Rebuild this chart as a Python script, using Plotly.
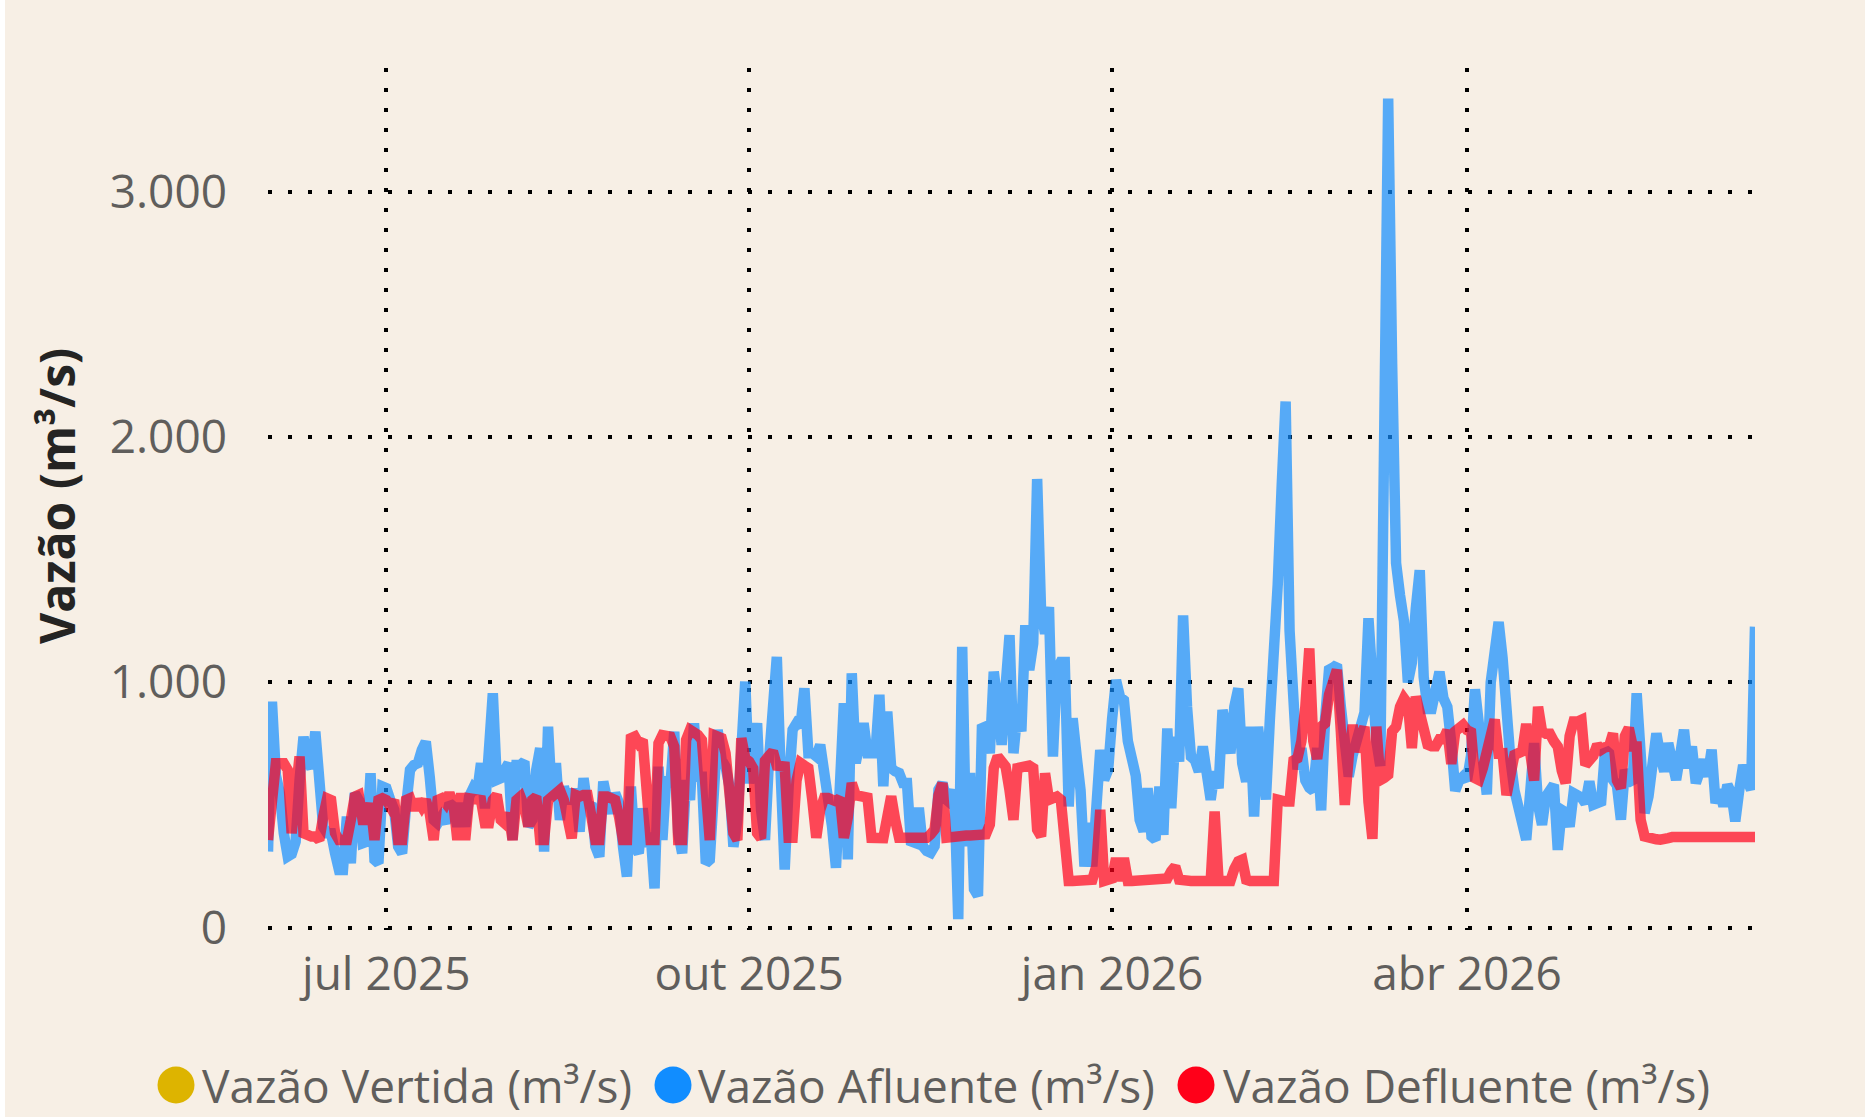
import pandas as pd
import plotly.graph_objects as go

start_date = "2025-06-01"

afluente = [
    310, 921, 620, 548, 385, 290, 300, 350, 600, 778,
    680, 650, 799, 575, 410, 385, 385, 303, 235, 235,
    452, 262, 548, 520, 344, 350, 629, 276, 262, 575,
    568, 520, 480, 330, 303, 493, 643, 663, 670, 724,
    758, 615, 439, 425, 452, 425, 507, 493, 412, 507,
    412, 534, 568, 548, 670, 486, 751, 955, 602, 609,
    643, 670, 357, 663, 663, 677, 412, 439, 643, 731,
    310, 819, 520, 670, 439, 575, 507, 548, 548, 391,
    609, 493, 507, 330, 289, 595, 520, 466, 548, 507,
    330, 208, 575, 330, 303, 486, 330, 385, 160, 656,
    357, 615, 575, 799, 385, 303, 602, 520, 833, 615,
    615, 262, 276, 575, 806, 683, 656, 575, 330, 439,
    683, 1003, 588, 683, 833, 480, 357, 680, 900, 1104,
    620, 237, 576, 806, 833, 820, 976, 711, 711, 698,
    745, 644, 549, 413, 244, 644, 915, 278, 1037, 671,
    766, 833, 711, 711, 711, 949, 576, 881, 650, 637,
    630, 589, 589, 352, 346, 488, 332, 312, 305, 332,
    562, 589, 522, 508, 562, 34, 1145, 332, 630, 156,
    129, 813, 820, 711, 1043, 915, 745, 982, 1192, 711,
    880, 800, 1233, 1050, 1158, 1829, 1290, 1199, 1307, 697,
    1050, 1083, 1083, 494, 853, 700, 560, 249, 426, 249,
    500, 724, 602, 643, 850, 1009, 940, 927, 760, 690,
    620, 439, 392, 568, 372, 358, 575, 378, 812, 487,
    778, 677, 1273, 900, 697, 683, 636, 738, 620, 521,
    636, 568, 887, 800, 711, 900, 975, 670, 595, 819,
    453, 819, 600, 522, 848, 1100, 1400, 1800, 2145, 1210,
    906, 645, 732, 600, 570, 558, 732, 478, 850, 1051,
    1060, 1072, 900, 760, 616, 703, 770, 833, 877, 1261,
    993, 761, 659, 2400, 3380, 2300, 1486, 1355, 1250, 1000,
    1080, 1300, 1457, 1022, 891, 891, 960, 1043, 935, 900,
    750, 558, 600, 616, 601, 700, 971, 800, 623, 543,
    1000, 1167, 1246, 1100, 800, 684, 560, 480, 400, 358,
    550, 752, 500, 419, 535, 560, 582, 317, 480, 470,
    412, 548, 540, 530, 507, 596, 501, 507, 514, 725,
    711, 602, 580, 440, 643, 600, 589, 955, 700, 467,
    535, 700, 792, 700, 636, 752, 650, 602, 700, 806,
    650, 738, 589, 650, 684, 616, 725, 507, 562, 494,
    582, 548, 433, 560, 663, 600, 562, 1227,
]

defluente = [
    357, 575, 670, 670, 670, 643, 385, 548, 697, 385,
    371, 371, 371, 357, 452, 527, 520, 385, 357, 357,
    357, 439, 534, 541, 439, 439, 507, 357, 520, 527,
    520, 493, 520, 357, 357, 520, 527, 480, 520, 493,
    520, 466, 357, 520, 527, 507, 548, 507, 357, 548,
    357, 527, 527, 520, 520, 425, 425, 520, 541, 439,
    425, 466, 357, 520, 534, 493, 412, 520, 534, 357,
    357, 520, 534, 534, 561, 520, 425, 364, 541, 534,
    541, 541, 452, 357, 357, 534, 534, 520, 520, 452,
    357, 357, 772, 779, 751, 765, 575, 357, 357, 751,
    785, 785, 779, 738, 357, 357, 765, 806, 799, 785,
    765, 575, 357, 785, 779, 772, 711, 520, 385, 357,
    772, 690, 677, 649, 385, 364, 680, 700, 718, 660,
    657, 657, 366, 366, 600, 671, 660, 650, 520, 366,
    480, 528, 528, 515, 515, 528, 366, 450, 589, 540,
    535, 530, 530, 366, 366, 359, 365, 450, 535, 440,
    366, 366, 366, 366, 366, 366, 366, 366, 380, 400,
    540, 589, 366, 370, 373, 375, 375, 375, 375, 375,
    375, 375, 380, 420, 650, 698, 670, 657, 560, 439,
    650, 655, 663, 660, 650, 399, 372, 629, 521, 534,
    534, 521, 350, 190, 190, 190, 190, 190, 190, 195,
    250, 480, 190, 190, 200, 283, 190, 283, 190, 190,
    190, 190, 190, 190, 190, 190, 190, 190, 200, 230,
    249, 195, 190, 190, 190, 190, 190, 190, 190, 190,
    473, 190, 190, 190, 190, 240, 270, 277, 195, 190,
    190, 190, 190, 190, 190, 190, 522, 515, 514, 514,
    681, 690, 760, 900, 1138, 761, 688, 819, 833, 950,
    1000, 1051, 800, 500, 700, 826, 717, 780, 819, 514,
    362, 819, 601, 610, 623, 800, 819, 900, 935, 913,
    732, 942, 880, 833, 746, 739, 739, 768, 768, 804,
    667, 800, 820, 826, 805, 797, 609, 601, 650, 717,
    780, 848, 710, 711, 540, 650, 704, 711, 718, 830,
    700, 600, 900, 800, 790, 790, 760, 738, 640, 589,
    780, 840, 840, 847, 663, 684, 700, 745, 725, 735,
    738, 792, 600, 569, 780, 813, 738, 738, 440, 372,
    365, 362, 360, 358, 358, 365, 369, 369, 369, 369,
    369, 369, 369, 369, 369, 369, 369, 369, 369, 369,
    369, 369, 369, 369, 369, 369, 369, 369,
]

vertida = [None] * len(afluente)

series_names = ["Vazão Vertida (m³/s)", "Vazão Afluente (m³/s)", "Vazão Defluente (m³/s)"]
series_colors = ["#DDB400", "#118DFF", "#FF0019"]
line_colors = ["rgba(221,180,0,0.7)", "rgba(17,141,255,0.7)", "rgba(255,0,25,0.7)"]

x_tickvals = ["2025-07-01", "2025-10-01", "2026-01-01", "2026-04-01"]
x_ticktext = ["jul 2025", "out 2025", "jan 2026", "abr 2026"]
y_tickvals = [0, 1000, 2000, 3000]
y_ticktext = ["0", "1.000", "2.000", "3.000"]

dates = pd.date_range(start_date, periods=len(afluente), freq="D")

W, H = 1865, 1117
L, R, T, B = 268, 1755, 68, 930
PW, PH = R - L, B - T

BG = "#F7EFE5"
FONT = "Segoe UI, Open Sans, sans-serif"

fig = go.Figure()
for name, ys, lc in zip(series_names, [vertida, afluente, defluente], line_colors):
    fig.add_trace(go.Scatter(
        x=dates, y=ys, mode="lines", name=name, showlegend=False,
        line=dict(color=lc, width=10.5, shape="linear"),
        hoverinfo="skip",
    ))

grid_dash = "3.5px,16.5px"
fig.update_layout(
    width=W, height=H,
    margin=dict(l=L, r=W - R, t=T, b=H - B, pad=0),
    paper_bgcolor=BG, plot_bgcolor=BG,
    font=dict(family=FONT, color="#605E5C", size=46),
    showlegend=False,
    xaxis=dict(
        type="date",
        range=[dates[0], dates[-1]],
        tickvals=x_tickvals, ticktext=x_ticktext,
        showgrid=True, gridcolor="#000000", gridwidth=3.5, griddash=grid_dash,
        zeroline=False, showline=False, ticks="",
        tickfont=dict(size=46, color="#605E5C", family=FONT),
        ticklabelstandoff=13,
    ),
    yaxis=dict(
        range=[-10, 3505],
        tickvals=y_tickvals, ticktext=y_ticktext,
        showgrid=True, gridcolor="#000000", gridwidth=3.5, griddash=grid_dash,
        zeroline=False, showline=False, ticks="",
        tickfont=dict(size=46, color="#605E5C", family=FONT),
        ticklabelstandoff=40,
    ),
)

def px_x(px):
    return (px - L) / PW

def px_y(py):
    return (B - py) / PH

annotations = [
    dict(
        text="Vazão (m³/s)", textangle=-90,
        xref="paper", yref="paper", x=px_x(57), y=px_y(496),
        xanchor="center", yanchor="middle", showarrow=False,
        font=dict(family=FONT, size=48, color="#252423", weight="bold"),
    )
]
shapes = [
    dict(type="rect", xref="paper", yref="paper", x0=px_x(0), x1=px_x(5),
         y0=-0.5, y1=1.5, fillcolor="#FFFFFF", line=dict(width=0), layer="below")
]

legend_circle_x = [176, 673, 1196]
legend_text_x = [200, 696, 1221]
legend_y = 1085
for name, col, cx, tx in zip(series_names, series_colors, legend_circle_x, legend_text_x):
    shapes.append(dict(
        type="circle", xref="paper", yref="paper",
        xsizemode="pixel", ysizemode="pixel",
        xanchor=px_x(cx), yanchor=px_y(legend_y),
        x0=-18.5, x1=18.5, y0=-18.5, y1=18.5,
        fillcolor=col, line=dict(width=0),
    ))
    annotations.append(dict(
        text=name, xref="paper", yref="paper", x=px_x(tx), y=px_y(legend_y),
        xanchor="left", yanchor="middle", showarrow=False,
        font=dict(family=FONT, size=46, color="#605E5C"),
    ))

fig.update_layout(annotations=annotations, shapes=shapes)

fig.write_html(
    "out.html",
    config={"displayModeBar": False},
    post_script="document.body.style.margin='0';document.body.style.overflow='hidden';document.body.style.background='#F7EFE5';",
)
